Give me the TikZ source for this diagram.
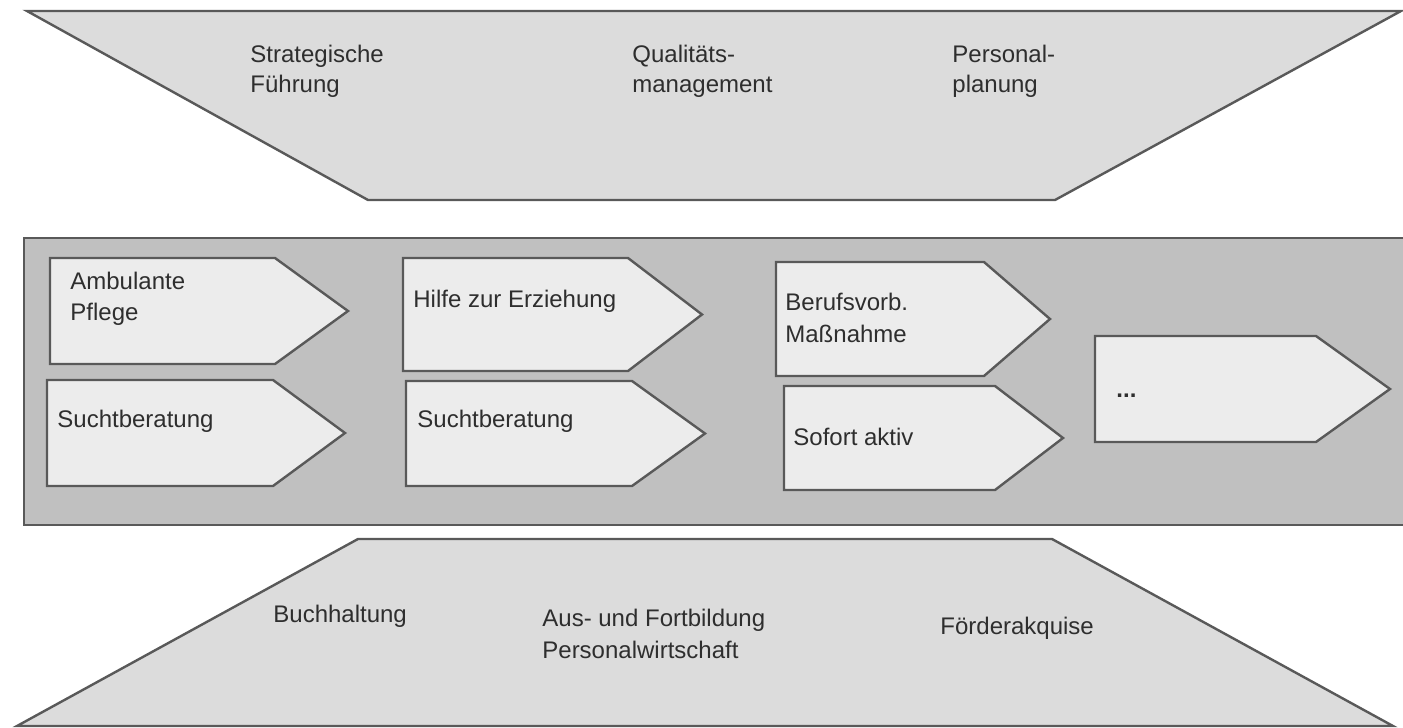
\documentclass[tikz,border=0pt]{standalone}
\usepackage{fontspec}
\setmainfont{Liberation Sans}
\definecolor{outl}{HTML}{595959}
\definecolor{trapfill}{HTML}{DCDCDC}
\definecolor{bandfill}{HTML}{C0C0C0}
\definecolor{chevfill}{HTML}{ECECEC}
\definecolor{txt}{HTML}{2E2E2E}
\newcommand\chevbox[6]{% left, top, straight end, tip x, bottom, name
  \draw[shape line, fill=chevfill] (#1,#2) -- (#3,#2) -- (#4,{(#2+#5)/2}) coordinate (#6tip) -- (#3,#5) -- (#1,#5) -- cycle;}
\begin{document}
\begin{tikzpicture}[x=0.5pt,y=-0.5pt,
  shape line/.style={draw=outl, line width=1.2pt, line join=miter},
  lbl/.style={anchor=base west, inner sep=0pt, text=txt, font=\fontsize{12pt}{14pt}\selectfont}]
\useasboundingbox (0,0) rectangle (1403,728);
\fill[white] (0,0) rectangle (1403,728);
% top trapezoid
\draw[shape line, fill=trapfill] (27,11) -- (1401,11) -- (1055,200) -- (368,200) -- cycle;
\node[lbl] (sf1) at (250,62) {Strategische};
\node[lbl] (sf2) at (250,92) {Führung};
\node[lbl] (qm1) at (632,62) {Qualitäts-};
\node[lbl] (qm2) at (632,92) {management};
\node[lbl] (pp1) at (952,62) {Personal-};
\node[lbl] (pp2) at (952,92) {planung};
% middle band
\draw[shape line, fill=bandfill] (24,238) rectangle (1412,525);
\chevbox{50}{258}{275}{348}{364}{c1}
\chevbox{47}{380}{273}{345}{486}{c2}
\chevbox{403}{258}{628}{702}{371}{c3}
\chevbox{406}{381}{632}{705}{486}{c4}
\chevbox{776}{262}{984}{1050}{376}{c5}
\chevbox{784}{386}{995}{1063}{490}{c6}
\chevbox{1095}{336}{1316}{1390}{442}{c7}
\node[lbl] (ap1) at (70,289) {Ambulante};
\node[lbl] (ap2) at (70,320) {Pflege};
\node[lbl] (sb1) at (57,427) {Suchtberatung};
\node[lbl] (hz) at (413,307) {Hilfe zur Erziehung};
\node[lbl] (sb2) at (417,427) {Suchtberatung};
\node[lbl] (bm1) at (785,310) {Berufsvorb.};
\node[lbl] (bm2) at (785,342) {Maßnahme};
\node[lbl] (sa) at (793,445) {Sofort aktiv};
\node[lbl, font=\fontsize{12pt}{14pt}\selectfont\bfseries] (dots) at (1116,397) {...};
% bottom trapezoid
\draw[shape line, fill=trapfill] (358,539) -- (1052,539) -- (1393,726) -- (17,726) -- cycle;
\node[lbl] (bh) at (273,622) {Buchhaltung};
\node[lbl] (af1) at (542,626) {Aus- und Fortbildung};
\node[lbl] (af2) at (542,658) {Personalwirtschaft};
\node[lbl] (fa) at (940,634) {Förderakquise};
\end{tikzpicture}
\end{document}
